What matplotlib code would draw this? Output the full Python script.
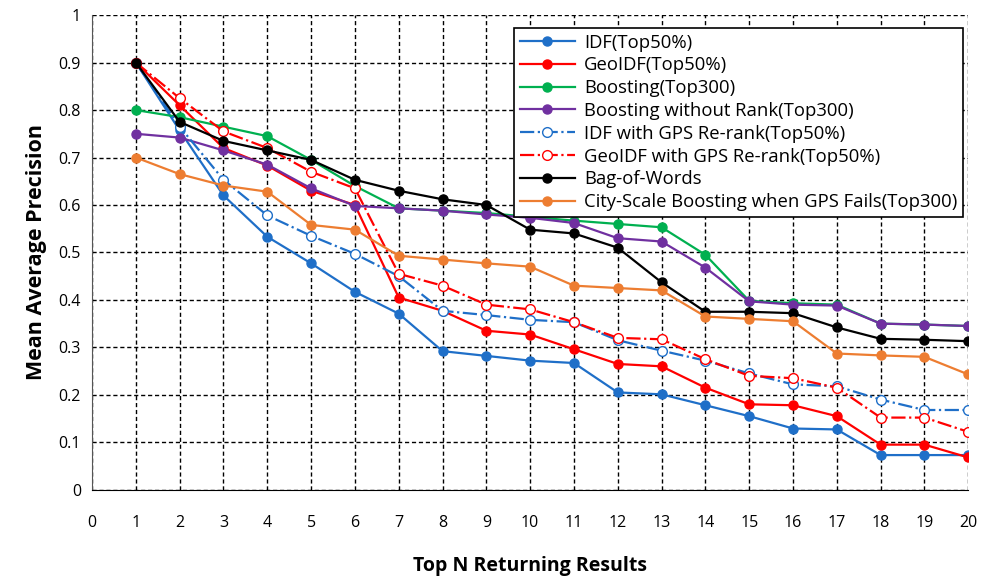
import matplotlib.pyplot as plt

plt.rcParams['font.family'] = ['Open Sans', 'DejaVu Sans']

# data
n = list(range(1, 21))

idf = [0.9, 0.757, 0.62, 0.533, 0.477, 0.417, 0.371, 0.292, 0.282, 0.272,
       0.267, 0.205, 0.201, 0.178, 0.155, 0.129, 0.127, 0.073, 0.073, 0.073]
geoidf = [0.9, 0.81, 0.72, 0.683, 0.63, 0.6, 0.405, 0.377, 0.335, 0.327,
          0.296, 0.265, 0.26, 0.215, 0.18, 0.178, 0.155, 0.095, 0.095, 0.068]
boosting = [0.8, 0.785, 0.765, 0.745, 0.695, 0.64, 0.593, 0.588, 0.583, 0.575,
            0.567, 0.56, 0.553, 0.495, 0.398, 0.393, 0.39, 0.35, 0.348, 0.345]
boost_norank = [0.75, 0.742, 0.715, 0.685, 0.635, 0.598, 0.593, 0.588, 0.58, 0.573,
                0.562, 0.53, 0.523, 0.468, 0.397, 0.39, 0.388, 0.35, 0.348, 0.345]
idf_gps = [0.9, 0.765, 0.653, 0.578, 0.535, 0.497, 0.45, 0.377, 0.368, 0.358,
           0.353, 0.315, 0.293, 0.272, 0.245, 0.222, 0.218, 0.19, 0.168, 0.168]
geoidf_gps = [0.9, 0.825, 0.755, 0.72, 0.67, 0.635, 0.455, 0.43, 0.39, 0.38,
              0.353, 0.32, 0.317, 0.275, 0.24, 0.235, 0.215, 0.152, 0.152, 0.122]
bow = [0.9, 0.775, 0.735, 0.715, 0.695, 0.653, 0.63, 0.612, 0.6, 0.548,
       0.54, 0.51, 0.437, 0.375, 0.375, 0.372, 0.342, 0.318, 0.316, 0.313]
city = [0.7, 0.665, 0.641, 0.628, 0.558, 0.548, 0.493, 0.485, 0.477, 0.47,
        0.43, 0.425, 0.42, 0.365, 0.36, 0.355, 0.287, 0.283, 0.28, 0.243]

fig = plt.figure(figsize=(9.9, 5.83), dpi=100)
ax = fig.add_axes([0.093, 0.16, 0.885, 0.814])

ax.plot(n, idf, '-o', color='#1F6FC8', lw=1.6, ms=6.5, label='IDF(Top50%)')
ax.plot(n, geoidf, '-o', color='#FF0000', lw=1.6, ms=6.5, label='GeoIDF(Top50%)')
ax.plot(n, boosting, '-o', color='#00B050', lw=1.6, ms=6.5, label='Boosting(Top300)')
ax.plot(n, boost_norank, '-o', color='#7030A0', lw=1.6, ms=6.5, label='Boosting without Rank(Top300)')
ax.plot(n, idf_gps, '-.o', color='#1F6FC8', lw=1.6, ms=7, mfc='white', label='IDF with GPS Re-rank(Top50%)')
ax.plot(n, geoidf_gps, '-.o', color='#FF0000', lw=1.6, ms=7, mfc='white', label='GeoIDF with GPS Re-rank(Top50%)')
ax.plot(n, bow, '-o', color='black', lw=1.6, ms=6.5, label='Bag-of-Words')
ax.plot(n, city, '-o', color='#ED7D31', lw=1.6, ms=6.5, label='City-Scale Boosting when GPS Fails(Top300)')

ax.set_xlim(0, 20)
ax.set_ylim(0, 1)
ax.set_xticks(range(0, 21))
ax.set_yticks([i / 10 for i in range(11)])
ax.set_yticklabels(['0'] + ['%.1f' % (i / 10) for i in range(1, 10)] + ['1'])
ax.tick_params(axis='x', pad=18, labelsize=11.5, length=0)
ax.tick_params(axis='y', labelsize=11.5, length=0, pad=8)
ax.grid(True, color='black', linestyle=(0, (3, 2)), lw=1.0)
for s in ['top', 'right']:
    ax.spines[s].set_visible(False)
ax.spines['left'].set_color('#555555')
ax.spines['bottom'].set_color('black')

ax.set_xlabel('Top N Returning Results', fontsize=14, fontweight='bold', labelpad=18)
ax.set_ylabel('Mean Average Precision', fontsize=15.5, fontweight='bold', labelpad=8)

leg = ax.legend(loc='upper right', bbox_to_anchor=(0.994, 0.973), fontsize=13.3,
                handlelength=3.0, borderaxespad=0, labelspacing=0.26,
                borderpad=0.3, handletextpad=0.5,
                fancybox=False, framealpha=1, edgecolor='black')
leg.get_frame().set_linewidth(1.2)

fig.savefig('out.png', dpi=100)
